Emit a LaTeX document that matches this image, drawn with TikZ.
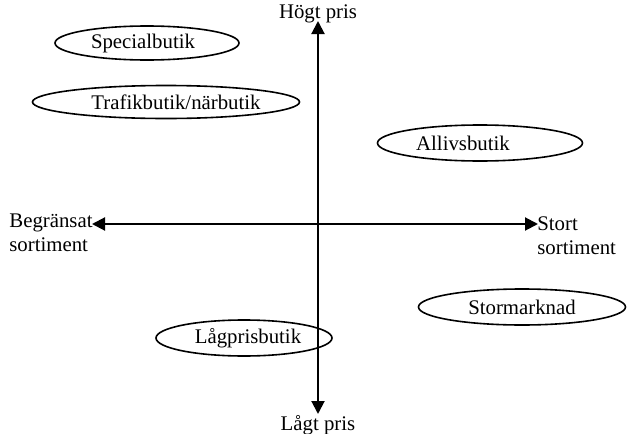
\documentclass[tikz,border=0pt]{standalone}
\usepackage{fontspec}
\setmainfont{Liberation Serif}
\usetikzlibrary{shapes.geometric,arrows.meta}

\tikzset{
  butik/.style={ellipse,draw,line width=0.8pt,inner sep=0pt},
  axel/.style={line width=1pt,{Triangle[length=6.5pt,width=6.5pt]}-{Triangle[length=6.5pt,width=6.5pt]}},
  txt/.style={inner sep=0pt,font=\fontsize{10.4}{12}\selectfont}
}

\begin{document}
\begin{tikzpicture}[x=0.5pt,y=-0.5pt]
\useasboundingbox (0,0) rectangle (639,434);

% axlarna
\coordinate (topp) at (318,21);
\coordinate (botten) at (318,414);
\coordinate (vanster) at (92,224);
\coordinate (hoger) at (538,224);
\draw[axel] (botten) -- (topp);
\draw[axel] (vanster) -- (hoger);

\node[txt] (hogt) at (318,14) {Högt pris};
\node[txt] (lagt) at (318,425) {Lågt pris};
\node[txt,anchor=west,align=left] (begr) at (9,233) {Begränsat\\sortiment};
\node[txt,anchor=west,align=left] (stort) at (537,236) {Stort\\sortiment};

% butikstyper
\node[butik,minimum width=92pt,minimum height=17pt,
  label={[txt,xshift=-2pt]center:Specialbutik}] (special) at (147,43) {};
\node[butik,minimum width=133.5pt,minimum height=16.5pt,
  label={[txt,xshift=5pt]center:Trafikbutik/närbutik}] (trafik) at (166,102) {};
\node[butik,minimum width=102.5pt,minimum height=18pt,
  label={[txt,xshift=-8.5pt]center:Allivsbutik}] (allivs) at (480,143) {};
\node[butik,minimum width=103.5pt,minimum height=18pt,
  label={[txt]center:Stormarknad}] (storm) at (522,307) {};
\node[butik,minimum width=88pt,minimum height=18pt,
  label={[txt,xshift=2pt]center:Lågprisbutik}] (lagpris) at (244,338) {};
\end{tikzpicture}
\end{document}
